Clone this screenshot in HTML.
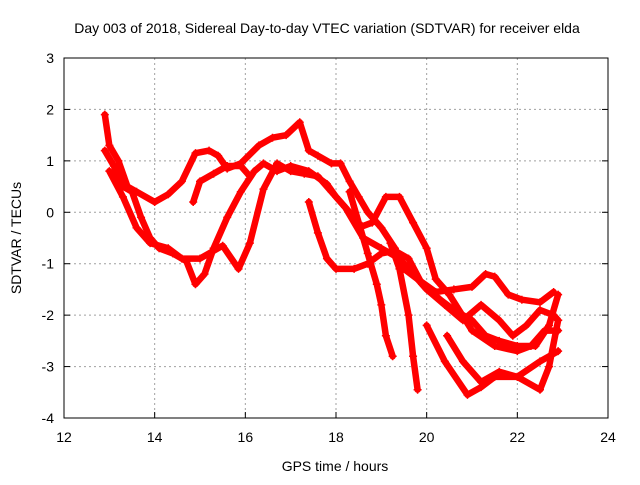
<!DOCTYPE html>
<html><head><meta charset="utf-8"><style>
body{margin:0;background:#fff;}
svg text{font-family:"Liberation Sans",sans-serif;font-size:14px;fill:#000;}
</style></head><body>
<svg id="chart" width="640" height="480" viewBox="0 0 640 480" xmlns="http://www.w3.org/2000/svg">
<text x="327" y="33" text-anchor="middle">Day 003 of 2018, Sidereal Day-to-day VTEC variation (SDTVAR) for receiver elda</text>
<g id="grid"></g>
<g id="series"></g>
<rect x="64" y="58" width="544" height="360" fill="none" stroke="#000" stroke-width="1"/>
<g id="ticks"></g>
<text x="335" y="471" text-anchor="middle">GPS time / hours</text>
<text transform="translate(21,238) rotate(-90)" text-anchor="middle">SDTVAR / TECUs</text>
</svg>
<script>
const xTicks=[12,14,16,18,20,22,24];
const yTicks=[-4,-3,-2,-1,0,1,2,3];
const track1=[[12.9,1.9],[13.0,1.3],[13.2,1.0],[13.4,0.5],[13.6,0.4],[14.0,0.2],[14.3,0.35],[14.6,0.6],[14.9,1.15],[15.2,1.2],[15.4,1.1],[15.6,0.85],[15.9,0.95],[16.3,1.3],[16.6,1.45],[16.9,1.5],[17.2,1.75],[17.4,1.2],[17.6,1.1],[17.9,0.95],[18.1,0.95],[18.3,0.6],[18.5,0.3],[18.7,0.0],[19.0,-0.3],[19.3,-0.7],[19.5,-1.1],[19.8,-1.3],[20.2,-1.55],[20.6,-1.5],[21.0,-1.45],[21.3,-1.2],[21.5,-1.25],[21.8,-1.6],[22.1,-1.7],[22.5,-1.75],[22.8,-1.55]];
const track2=[[12.9,1.2],[13.1,0.9],[13.3,0.5],[13.5,0.4],[13.7,-0.1],[13.9,-0.5],[14.1,-0.7],[14.4,-0.8],[14.7,-0.95],[14.9,-1.4],[15.1,-1.2],[15.3,-0.7],[15.6,-0.1],[15.9,0.4],[16.2,0.8],[16.4,0.95],[16.7,0.8],[17.0,0.9],[17.4,0.8],[17.8,0.55],[18.0,0.3],[18.3,0.0],[18.5,-0.3],[18.8,-0.2],[19.1,0.3],[19.4,0.3],[19.7,-0.2],[20.0,-0.7],[20.2,-1.3],[20.5,-1.6],[21.0,-2.3],[21.5,-2.6],[22.0,-2.7],[22.3,-2.6],[22.6,-2.3],[22.9,-2.3]];
const track3=[[13.0,0.8],[13.3,0.3],[13.6,-0.3],[13.9,-0.6],[14.3,-0.7],[14.6,-0.9],[15.0,-0.9],[15.3,-0.75],[15.5,-0.65],[15.85,-1.1],[16.1,-0.6],[16.4,0.45],[16.7,0.95],[17.0,0.8],[17.3,0.75],[17.6,0.7],[17.9,0.4],[18.2,0.1],[18.6,-0.5],[19.0,-0.7],[19.4,-0.9],[19.7,-1.2],[20.0,-1.5],[20.4,-1.8],[20.8,-2.1],[21.2,-1.8],[21.6,-2.1],[21.9,-2.4],[22.2,-2.2],[22.5,-1.9],[22.8,-2.0],[22.9,-2.1]];
const track4=[[14.85,0.2],[15.0,0.6],[15.3,0.75],[15.6,0.9],[15.9,0.9],[16.1,0.7]];
const track5=[[17.4,0.2],[17.6,-0.4],[17.8,-0.9],[18.0,-1.1],[18.4,-1.1],[18.7,-1.0],[19.0,-0.8],[19.3,-0.75],[19.6,-0.9],[19.9,-1.4],[20.3,-1.7],[20.6,-1.9],[21.0,-2.1],[21.3,-2.4],[21.6,-2.5],[22.0,-2.6],[22.4,-2.6],[22.7,-2.2],[22.9,-1.6]];
const track6=[[18.3,0.4],[18.5,-0.2],[18.7,-0.8],[18.9,-1.4],[19.0,-1.8],[19.1,-2.4],[19.25,-2.8]];
const track7=[[19.2,-0.6],[19.4,-1.1],[19.6,-2.0],[19.7,-2.8],[19.8,-3.45]];
const track8=[[20.0,-2.2],[20.4,-2.9],[20.9,-3.55],[21.2,-3.4],[21.5,-3.2],[22.0,-3.2],[22.5,-3.45],[22.7,-3.0],[22.9,-2.1]];
const track9=[[20.45,-2.4],[20.8,-2.9],[21.2,-3.3],[21.6,-3.1],[22.0,-3.2],[22.5,-2.9],[22.9,-2.7]];
const tracks=[track1,track2,track3,track4,track5,track6,track7,track8,track9];
const NS='http://www.w3.org/2000/svg';
const X=t=>64+(t-12)*544/12;
const Y=v=>58+(3-v)*360/7;
function mk(tag,attrs,parent){const e=document.createElementNS(NS,tag);for(const k in attrs)e.setAttribute(k,attrs[k]);parent.appendChild(e);return e;}
const grid=document.getElementById('grid'),ticks=document.getElementById('ticks'),ser=document.getElementById('series');
xTicks.forEach(t=>{
 if(t>12&&t<24){const l=mk('line',{x1:X(t),x2:X(t),y1:58,y2:418,stroke:'#a0a0a0','stroke-dasharray':'2,3'},grid);
 
 }
 const tk=mk('line',{x1:X(t),x2:X(t),y1:418,y2:412,stroke:'#000'},ticks);
 
 
 const tx=mk('text',{x:X(t),y:442,'text-anchor':'middle'},ticks);tx.textContent=t;
 
 
});
yTicks.forEach(v=>{
 if(v>-4&&v<3){const l=mk('line',{x1:64,x2:608,y1:Y(v),y2:Y(v),stroke:'#a0a0a0','stroke-dasharray':'2,3'},grid);
 
 }
 const tk=mk('line',{x1:64,x2:70,y1:Y(v),y2:Y(v),stroke:'#000'},ticks);
 
 
 const tk2=mk('line',{x1:602,x2:608,y1:Y(v),y2:Y(v),stroke:'#000'},ticks);
 
 
 const tx=mk('text',{x:54,y:Y(v)+5,'text-anchor':'end'},ticks);tx.textContent=v;
 
 
});
tracks.forEach((tr,i)=>{
 const pl=mk('polyline',{points:tr.map(p=>X(p[0])+','+Y(p[1])).join(' '),fill:'none',stroke:'#ff0000','stroke-width':6.5,'stroke-linejoin':'round','stroke-linecap':'round'},ser);
 
 
 tr.forEach(p=>{
  const m=mk('path',{d:`M${X(p[0])-4},${Y(p[1])}h8M${X(p[0])},${Y(p[1])-4}v8`,stroke:'#ff0000','stroke-width':1.5},ser);
  
  
 });
});
</script>
</body></html>
